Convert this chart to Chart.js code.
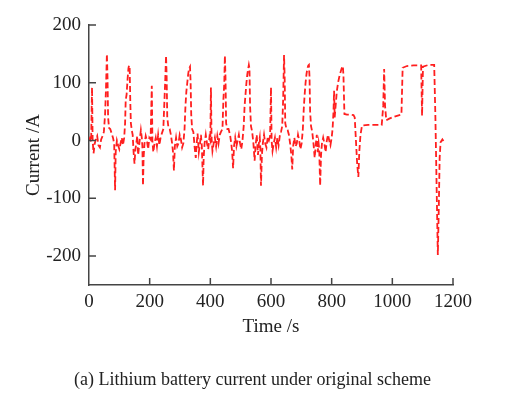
<!DOCTYPE html>
<html>
<head>
<meta charset="utf-8">
<script src="https://cdn.jsdelivr.net/npm/chart.js@4"></script>
<style>
  body { margin: 0; background: #fff; }
  #wrap { position: relative; width: 519px; height: 395px; }
  #caption {
    position: absolute; left: 0; top: 368px; width: 505px;
    text-align: center; font: 18px 'Liberation Serif', serif;
    line-height: 22px; color: #222;
  }
</style>
</head>
<body>
<div id="wrap">
  <canvas id="currentChart" width="519" height="395"></canvas>
  <div id="caption">(a) Lithium battery current under original scheme</div>
</div>
<script>
// tiempo (s) y corriente (A), un bloque por ciclo
const timeS = [
  0, 3, 7, 10, 12, 15, 19, 23, 27, 31, 36, 40, 45, 49, 53, 56, 59, 61, 63, 66,
  70, 75, 79, 83, 86, 88, 92, 96, 100, 104, 108, 112, 116, 119, 121, 124, 127, 130, 132, 134,
  136, 138, 141, 144, 147, 150, 153, 156, 159, 162, 165, 168, 171, 174, 176, 178, 180, 183, 187, 191,
  195, 199, 203,
  207, 209, 212, 216, 220, 224, 228, 232, 236, 240, 245, 248, 251, 254, 256, 258, 262, 266, 270, 274,
  277, 280, 283, 287, 291, 295, 299, 303, 307, 311, 315, 318, 321, 324, 327, 330, 333, 335, 337, 340,
  344, 348, 352, 355, 358, 362, 366, 369, 372, 376, 378, 381, 385, 389, 393, 397, 400,
  402, 404, 407, 411, 415, 419, 423, 427, 431, 435, 440, 443, 446, 448, 450, 452, 456, 460, 465, 469,
  472, 475, 478, 482, 486, 490, 494, 498, 502, 506, 510, 513, 516, 519, 522, 525, 527, 529, 531, 534,
  538, 542, 546, 549, 553, 557, 560, 563, 565, 567, 570, 573, 577, 581, 585, 589, 593, 597,
  600, 602, 605, 609, 613, 617, 621, 625, 629, 633, 637, 640, 643, 645, 647, 651, 655, 659, 663, 667,
  670, 673, 677, 681, 685, 689, 693, 697, 701, 705, 708, 711, 714, 717, 720, 723, 725, 727, 729, 732,
  736, 740, 744, 747, 751, 754, 757, 759, 762, 765, 768, 772, 776, 780, 784, 788, 792,
  796, 800, 803, 806, 808, 810, 813, 817, 821, 825, 829, 833, 837, 839, 842, 850, 860, 872, 876, 880,
  884, 888, 891, 895, 900, 920, 940, 965, 970, 973, 976, 980, 990, 1010, 1030, 1034, 1048, 1070, 1095, 1098,
  1101, 1120, 1138, 1142, 1146, 1150, 1153, 1156, 1159, 1165, 1170, 1175
];
const currentA = [
  0, 4, -2, 92, 0, -22, -5, 3, 8, -8, -12, 2, 8, 15, 45, 90, 150, 110, 40, 22,
  20, 12, 5, -5, -86, -20, 0, -8, -15, -5, 5, -8, 5, 30, 70, 80, 105, 125, 130, 128,
  70, 30, 18, 10, -20, -40, -15, -5, 8, -25, -10, 5, 18, 5, -10, -78, -30, -5, 8, 0,
  -15, 5, 2,
  95, 0, -20, -5, 5, -10, 10, -8, 5, 12, 20, 60, 100, 147, 110, 40, 22, 20, 10, -5,
  -20, -52, -10, 5, -10, -5, 10, 2, -12, -5, 20, 60, 85, 100, 115, 125, 128, 100, 45, 20,
  15, -10, -30, -5, 12, -20, -5, 10, -10, -78, -30, -5, 10, -5, -15, 5, 0,
  92, 5, -18, -5, 5, -10, 8, -5, 10, 15, 20, 70, 100, 147, 110, 30, 20, 20, 10, -5,
  -20, -48, -10, 5, -10, 0, 10, -5, -15, 0, 25, 60, 80, 100, 115, 125, 131, 125, 60, 25,
  15, -5, -35, -10, 10, -25, -5, 5, -15, -78, -25, -5, 10, -5, -12, 5, 0, 8,
  92, 0, -18, -5, 5, -12, 5, -8, 8, 15, 25, 70, 148, 110, 30, 20, 18, 10, -5, -25,
  -50, -10, 5, -10, -5, 10, 0, -15, -5, 20, 55, 80, 100, 115, 125, 130, 131, 110, 50, 25,
  15, -5, -30, -10, 10, -20, -5, -15, -78, -25, -5, 5, -5, -20, 0, 10, 0,
  -8, 5, 20, 50, 86, 40, 60, 85, 100, 110, 118, 125, 129, 110, 46, 45, 45, 44, 40, 0,
  -40, -63, -20, 10, 26, 27, 27, 27, 60, 124, 60, 35, 38, 42, 45, 126, 129, 130, 130, 43,
  128, 131, 131, 40, -80, -198, -120, -30, -3, 2, -2, -3
];
const xTicks = [0, 200, 400, 600, 800, 1000, 1200];
const yTicks = [-200, -100, 0, 100, 200];

const serif = 'Liberation Serif';
const axisColor = '#444';

// marcas de los ejes hacia dentro, como en la figura original
const innerTicks = {
  id: 'innerTicks',
  afterDraw(chart) {
    const { ctx, chartArea, scales: { x, y } } = chart;
    ctx.save();
    ctx.strokeStyle = axisColor;
    ctx.lineWidth = 1.5;
    ctx.beginPath();
    xTicks.forEach(v => {
      if (v === 0) return;
      const px = x.getPixelForValue(v);
      ctx.moveTo(px, chartArea.bottom);
      ctx.lineTo(px, chartArea.bottom - 7);
    });
    yTicks.forEach(v => {
      const py = y.getPixelForValue(v);
      ctx.moveTo(chartArea.left, py);
      ctx.lineTo(chartArea.left + 7, py);
    });
    ctx.stroke();
    ctx.restore();
  }
};

new Chart(document.getElementById('currentChart'), {
  type: 'line',
  data: {
    datasets: [{
      data: timeS.map((t, i) => ({ x: t, y: currentA[i] })),
      borderColor: '#ff1f1f',
      borderWidth: 1.8,
      borderDash: [6, 3],
      pointRadius: 0,
      tension: 0,
      fill: false
    }]
  },
  options: {
    responsive: false,
    animation: false,
    layout: { padding: { left: 0, right: 66, top: 25, bottom: 40 } },
    plugins: {
      legend: { display: false },
      tooltip: { enabled: false }
    },
    scales: {
      x: {
        type: 'linear',
        min: 0,
        max: 1200,
        afterBuildTicks: s => { s.ticks = xTicks.map(v => ({ value: v })); },
        afterFit: s => { s.height = 70; },
        grid: { display: true, drawOnChartArea: false, drawTicks: false },
        border: { display: true, color: axisColor, width: 1.5 },
        ticks: {
          font: { family: serif, size: 19 },
          color: '#222',
          padding: 6,
          maxRotation: 0,
          autoSkip: false,
          callback: v => String(v)
        },
        title: {
          display: true,
          text: 'Time /s',
          font: { family: serif, size: 19 },
          color: '#222',
          padding: { top: 0, bottom: 17 }
        }
      },
      y: {
        min: -250,
        max: 200,
        afterBuildTicks: s => { s.ticks = yTicks.map(v => ({ value: v })); },
        afterFit: s => { s.width = 89; },
        grid: { display: true, drawOnChartArea: false, drawTicks: false },
        border: { display: true, color: axisColor, width: 1.5 },
        ticks: {
          font: { family: serif, size: 19 },
          color: '#222',
          padding: 8,
          callback: v => String(v)
        },
        title: {
          display: true,
          text: 'Current /A',
          font: { family: serif, size: 19 },
          color: '#222',
          padding: { top: 23, bottom: 0 }
        }
      }
    }
  },
  plugins: [innerTicks]
});
</script>
</body>
</html>
